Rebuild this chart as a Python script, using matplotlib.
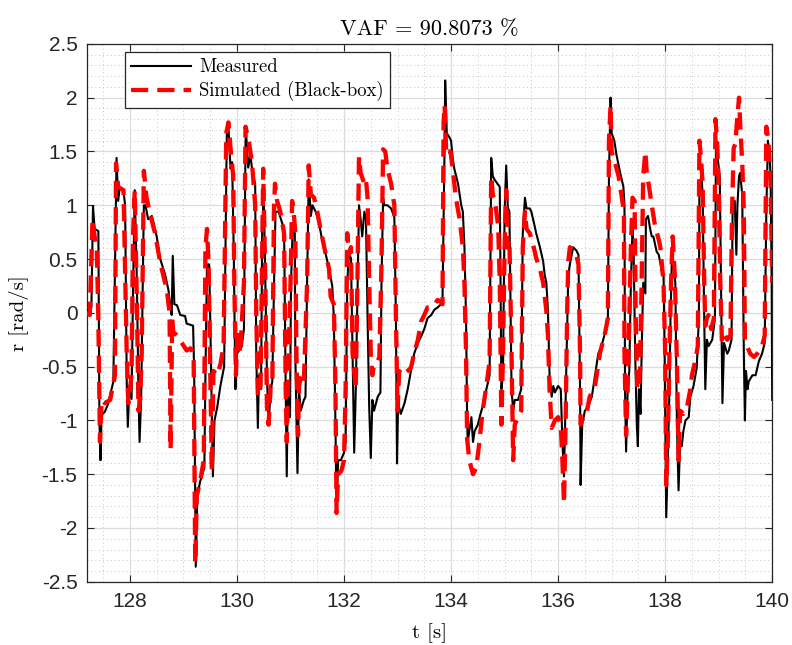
import matplotlib
matplotlib.use("Agg")
import matplotlib.pyplot as plt
from matplotlib.ticker import MultipleLocator, FuncFormatter

# ---------------- data ----------------
t_meas = [127.19, 127.22, 127.28, 127.31, 127.34, 127.41, 127.43, 127.45, 127.47, 127.53, 127.59, 127.69,
          127.75, 127.78, 127.81, 127.88, 127.91, 127.94, 127.96, 127.99, 128.03, 128.06, 128.09, 128.13,
          128.16, 128.18, 128.21, 128.24, 128.26, 128.29, 128.34, 128.41, 128.50, 128.56, 128.66, 128.72,
          128.75, 128.78, 128.80, 128.83, 128.88, 128.94, 129.03, 129.06, 129.18, 129.20, 129.22, 129.23,
          129.26, 129.31, 129.39, 129.41, 129.44, 129.48, 129.50, 129.53, 129.55, 129.58, 129.63, 129.69,
          129.76, 129.81, 129.84, 129.88, 129.91, 129.94, 129.97, 130.00, 130.09, 130.13, 130.16, 130.17,
          130.21, 130.25, 130.29, 130.34, 130.36, 130.39, 130.41, 130.45, 130.47, 130.50, 130.53, 130.56,
          130.59, 130.63, 130.66, 130.69, 130.72, 130.78, 130.84, 130.88, 130.91, 130.93, 130.95, 130.99,
          131.01, 131.04, 131.08, 131.09, 131.13, 131.16, 131.19, 131.25, 131.28, 131.31, 131.34, 131.38,
          131.41, 131.47, 131.53, 131.59, 131.66, 131.72, 131.78, 131.81, 131.84, 131.86, 131.89, 131.94,
          132.00, 132.03, 132.06, 132.09, 132.13, 132.16, 132.19, 132.22, 132.25, 132.28, 132.31, 132.34,
          132.38, 132.41, 132.44, 132.47, 132.50, 132.53, 132.56, 132.63, 132.68, 132.70, 132.73, 132.75,
          132.81, 132.88, 132.94, 132.97, 132.99, 133.01, 133.06, 133.13, 133.19, 133.25, 133.31, 133.38,
          133.44, 133.50, 133.56, 133.63, 133.69, 133.75, 133.81, 133.84, 133.88, 133.89, 133.92, 133.97,
          134.00, 134.03, 134.06, 134.13, 134.19, 134.22, 134.25, 134.28, 134.30, 134.31, 134.34, 134.38,
          134.41, 134.44, 134.50, 134.55, 134.59, 134.66, 134.72, 134.75, 134.78, 134.81, 134.91, 134.94,
          134.97, 135.00, 135.03, 135.06, 135.09, 135.13, 135.16, 135.19, 135.25, 135.31, 135.34, 135.38,
          135.41, 135.47, 135.50, 135.56, 135.59, 135.66, 135.72, 135.75, 135.78, 135.81, 135.84, 135.88,
          135.91, 135.94, 136.00, 136.05, 136.08, 136.11, 136.16, 136.19, 136.22, 136.28, 136.34, 136.38,
          136.41, 136.42, 136.45, 136.50, 136.56, 136.63, 136.69, 136.75, 136.81, 136.88, 136.93, 136.95,
          136.98, 137.00, 137.05, 137.09, 137.16, 137.22, 137.24, 137.25, 137.27, 137.30, 137.33, 137.36,
          137.39, 137.41, 137.44, 137.47, 137.49, 137.51, 137.54, 137.56, 137.59, 137.63, 137.64, 137.68,
          137.72, 137.75, 137.78, 137.84, 137.88, 137.94, 137.97, 137.99, 138.02, 138.05, 138.08, 138.10,
          138.13, 138.16, 138.19, 138.22, 138.25, 138.28, 138.31, 138.34, 138.38, 138.44, 138.47, 138.53,
          138.59, 138.63, 138.64, 138.68, 138.70, 138.73, 138.75, 138.78, 138.81, 138.88, 138.93, 138.95,
          138.98, 139.02, 139.05, 139.07, 139.10, 139.16, 139.19, 139.24, 139.26, 139.30, 139.33, 139.35,
          139.38, 139.40, 139.44, 139.47, 139.49, 139.51, 139.54, 139.56, 139.63, 139.69, 139.75, 139.81,
          139.86, 139.89, 139.92, 139.95, 139.97, 139.99, 140.00]
r_meas = [0.00, 0.03, 0.05, 0.99, 0.78, 0.76, -1.00, -1.37, -0.95, -0.92, -0.85, -0.64,
          1.44, 1.04, 1.17, 1.13, 1.00, -0.64, -1.06, -0.68, -0.80, 0.28, 1.14, 0.28,
          -0.78, -1.20, -0.78, 0.28, 1.00, 1.00, 0.87, 0.90, 0.71, 0.51, 0.35, 0.21,
          0.08, -0.02, 0.53, 0.08, 0.07, -0.02, -0.03, -0.10, -0.12, -0.54, -1.70, -2.36,
          -1.70, -1.57, -1.44, -0.60, 0.45, 0.45, -0.05, -0.94, -1.52, -1.00, -0.88, -0.68,
          -0.50, 1.67, 1.73, 1.34, 1.40, 0.55, -0.71, -0.38, -0.31, -0.15, 1.60, 1.67,
          1.35, 1.47, 1.30, 1.20, -0.38, -1.07, -0.58, -0.71, 0.74, 1.14, 0.28, -0.58,
          -1.04, -0.71, -0.64, 0.21, 0.94, 0.94, 0.84, 0.78, -0.71, -1.52, -0.71, -0.97,
          0.28, 0.78, 0.74, -0.38, -1.49, -0.71, -0.91, -0.81, -0.78, 0.28, 1.24, 0.90,
          1.00, 0.94, 0.84, 0.68, 0.54, 0.41, 0.25, -0.05, -1.04, -1.85, -1.37, -1.37,
          -1.30, -1.20, 0.28, 0.54, 0.51, -0.38, -1.30, -0.71, 0.12, 1.00, 0.87, 0.71,
          0.94, 0.87, -0.05, -0.87, -1.35, -0.81, -0.91, -0.78, -0.74, 0.28, 1.07, 1.00,
          1.00, 0.97, 0.89, -0.05, -1.40, -0.84, -0.94, -0.84, -0.71, -0.54, -0.38, -0.28,
          -0.22, -0.15, -0.05, -0.02, 0.03, 0.05, 0.08, 0.12, 1.60, 2.16, 1.67, 1.63,
          1.60, 1.44, 1.34, 1.20, 1.00, 0.94, 0.61, -0.05, -0.97, -1.20, -1.10, -0.97,
          -1.20, -1.10, -1.04, -0.94, -0.87, -0.71, -0.58, 1.44, 1.27, 1.24, 1.17, -0.71,
          -0.58, 0.94, 1.37, 0.98, 0.94, -0.71, -0.91, -0.81, -0.81, -0.71, 0.74, 1.07,
          0.97, 0.97, 0.94, 0.81, 0.74, 0.61, 0.48, 0.35, 0.28, 0.02, -0.58, -0.78,
          -0.68, -0.74, -0.68, -0.71, -1.20, -1.52, -0.38, 0.35, 0.45, 0.61, 0.58, 0.54,
          -0.71, -1.60, -1.04, -0.91, -0.87, -0.78, -0.58, -0.38, -0.31, -0.18, -0.05, 1.27,
          2.00, 1.67, 1.60, 1.47, 1.30, 1.17, 1.00, -0.71, -1.29, -0.71, -0.54, 0.28,
          0.78, 0.61, -0.38, -1.04, -1.24, -0.71, -0.94, -0.38, 0.28, 0.18, 0.87, 0.90,
          0.78, 0.71, 0.71, 0.57, 0.54, 0.38, 0.35, -0.38, -1.90, -1.37, -0.71, -0.05,
          0.61, 0.41, 0.28, -1.04, -1.65, -1.20, -1.24, -1.10, -1.00, -0.97, -0.78, -0.68,
          -0.51, -0.05, 1.20, 1.27, 1.10, -0.05, -0.71, -0.25, -0.31, -0.25, -0.05, 1.63,
          1.44, 1.27, 0.02, -0.84, -0.28, -0.38, -0.35, -0.25, 0.94, 1.04, 0.54, 1.00,
          1.27, 1.30, 1.10, -0.38, -1.00, -0.54, -0.71, -0.64, -0.58, -0.58, -0.45, -0.38,
          -0.28, 0.94, 1.60, 1.47, 1.27, 0.28, -0.81]

t_sim = [127.19, 127.25, 127.30, 127.34, 127.38, 127.41, 127.44, 127.47, 127.53, 127.63, 127.72, 127.74,
         127.78, 127.88, 127.94, 127.97, 128.03, 128.06, 128.09, 128.13, 128.16, 128.19, 128.22, 128.26,
         128.31, 128.38, 128.47, 128.56, 128.69, 128.74, 128.76, 128.79, 128.81, 128.88, 128.97, 129.06,
         129.13, 129.19, 129.22, 129.25, 129.31, 129.38, 129.41, 129.44, 129.47, 129.50, 129.53, 129.56,
         129.63, 129.69, 129.75, 129.80, 129.84, 129.89, 129.93, 129.95, 129.98, 130.01, 130.06, 130.13,
         130.16, 130.22, 130.28, 130.34, 130.36, 130.39, 130.44, 130.49, 130.53, 130.56, 130.59, 130.63,
         130.66, 130.69, 130.71, 130.75, 130.81, 130.88, 130.91, 130.93, 130.95, 131.00, 131.03, 131.06,
         131.09, 131.11, 131.14, 131.16, 131.20, 131.25, 131.31, 131.34, 131.38, 131.44, 131.50, 131.56,
         131.66, 131.72, 131.75, 131.81, 131.84, 131.86, 131.89, 131.95, 132.00, 132.03, 132.06, 132.09,
         132.13, 132.16, 132.22, 132.25, 132.28, 132.31, 132.38, 132.41, 132.44, 132.47, 132.50, 132.53,
         132.56, 132.63, 132.66, 132.70, 132.73, 132.77, 132.81, 132.88, 132.94, 132.97, 133.00, 133.03,
         133.09, 133.19, 133.25, 133.31, 133.38, 133.44, 133.50, 133.56, 133.63, 133.69, 133.75, 133.81,
         133.84, 133.86, 133.88, 133.91, 133.94, 133.99, 134.03, 134.09, 134.16, 134.22, 134.25, 134.28,
         134.30, 134.34, 134.41, 134.47, 134.53, 134.59, 134.66, 134.72, 134.75, 134.78, 134.83, 134.88,
         134.91, 134.94, 134.97, 135.00, 135.03, 135.06, 135.09, 135.13, 135.16, 135.19, 135.25, 135.31,
         135.34, 135.38, 135.41, 135.47, 135.53, 135.59, 135.66, 135.72, 135.78, 135.81, 135.84, 135.88,
         135.94, 136.00, 136.05, 136.08, 136.11, 136.14, 136.17, 136.19, 136.22, 136.28, 136.34, 136.38,
         136.41, 136.42, 136.47, 136.53, 136.59, 136.69, 136.78, 136.88, 136.93, 136.95, 136.98, 137.00,
         137.06, 137.13, 137.19, 137.23, 137.24, 137.27, 137.30, 137.33, 137.36, 137.39, 137.43, 137.45,
         137.48, 137.50, 137.53, 137.56, 137.59, 137.63, 137.66, 137.69, 137.75, 137.81, 137.88, 137.91,
         137.97, 138.00, 138.02, 138.05, 138.08, 138.11, 138.14, 138.18, 138.20, 138.23, 138.25, 138.28,
         138.34, 138.41, 138.47, 138.50, 138.56, 138.61, 138.64, 138.67, 138.70, 138.73, 138.75, 138.78,
         138.81, 138.86, 138.91, 138.94, 138.97, 139.00, 139.03, 139.06, 139.09, 139.16, 139.22, 139.25,
         139.28, 139.31, 139.35, 139.38, 139.41, 139.44, 139.47, 139.49, 139.53, 139.59, 139.66, 139.72,
         139.81, 139.86, 139.89, 139.93, 139.97, 140.00]
r_sim = [0.00, -0.02, 0.87, 0.71, 0.61, -0.05, -1.20, -0.81, -0.84, -0.81, -0.58, 1.39,
         1.17, 1.14, -0.38, -0.84, -0.58, 0.74, 1.14, 0.08, -0.91, -0.81, -0.38, 1.32,
         1.07, 0.91, 0.74, 0.48, 0.21, 0.00, -1.27, -0.05, -0.18, -0.21, -0.28, -0.35,
         -0.33, -0.38, -2.33, -1.70, -1.57, -1.37, 0.61, 0.78, 0.45, -0.54, -1.47, -0.54,
         -0.58, -0.48, -0.31, 1.67, 1.77, 1.47, 1.27, 0.28, -0.58, -0.15, -0.38, 0.28,
         1.73, 1.60, 1.40, 1.00, 0.00, -0.78, -0.68, 1.34, 0.28, -0.87, -1.04, -0.68,
         -0.68, 0.94, 1.20, 1.04, 0.94, 0.74, -0.71, -1.20, -0.75, 0.28, 1.04, 0.94,
         0.74, -0.38, -1.14, -0.68, -0.58, -0.64, 0.28, 1.37, 1.10, 1.07, 0.94, 0.78,
         0.54, 0.41, 0.15, 0.08, -0.71, -1.86, -1.50, -1.47, -1.37, -0.71, 0.74, 0.54,
         0.61, -0.38, -0.71, 0.28, 1.45, 1.30, 1.20, 1.24, 1.07, 0.28, -0.38, -0.58,
         -0.48, -0.45, -0.41, 0.45, 1.52, 1.50, 1.34, 1.20, 1.00, -0.05, -0.91, -0.54,
         -0.58, -0.54, -0.51, -0.38, -0.25, -0.08, -0.02, 0.05, 0.05, 0.08, 0.12, 0.10,
         0.08, 1.77, 1.93, 1.47, 1.50, 1.50, 1.34, 1.07, 0.87, 0.61, 0.28, -0.38,
         -1.17, -1.37, -1.50, -1.44, -1.20, -0.91, -0.68, -0.45, 1.27, 1.10, 1.00, 0.81,
         0.28, -1.04, -0.38, 0.61, 1.14, 0.61, 0.68, -0.38, -1.37, -1.04, -0.97, -0.91,
         0.61, 0.94, 0.78, 0.74, 0.64, 0.51, 0.41, 0.28, 0.02, -0.21, -0.71, -1.07,
         -1.00, -0.97, -1.04, -1.37, -1.77, -1.04, 0.05, 0.48, 0.61, 0.58, 0.54, 0.45,
         -0.38, -1.04, -0.97, -0.94, -0.78, -0.68, -0.38, -0.18, -0.05, 1.60, 1.93, 1.50,
         1.40, 1.27, 1.07, 0.94, -0.38, -1.14, -0.71, -0.05, 0.61, 1.07, 1.04, -0.05,
         -0.71, -0.71, -0.54, 0.28, 1.27, 1.50, 1.27, 1.20, 1.00, 0.81, 0.68, 0.61,
         0.28, -0.38, -1.60, -1.20, -0.38, 0.28, 0.71, 0.35, -0.05, -0.71, -1.37, -0.91,
         -0.94, -0.87, -0.71, -0.58, -0.45, -0.31, 1.60, 1.44, 1.20, 0.28, -0.12, -0.05,
         -0.02, -0.15, -0.05, 1.80, 1.60, 1.20, 0.28, -0.25, -0.18, -0.25, -0.21, 0.94,
         1.53, 1.57, 1.83, 2.00, 1.67, 1.40, 0.94, -0.25, -0.31, -0.38, -0.41, -0.38,
         -0.31, -0.21, 1.73, 1.60, 1.20, 0.28]

x_ticks = [128, 130, 132, 134, 136, 138, 140]
y_ticks = [-2.5, -2, -1.5, -1, -0.5, 0, 0.5, 1, 1.5, 2, 2.5]
title_text = "VAF = 90.8073 %"
series_labels = ["Measured", "Simulated (Black-box)"]

# ---------------- plot ----------------
serif = ["cmr10", "DejaVu Serif"]
sans = ["Liberation Sans", "DejaVu Sans"]

fig = plt.figure(figsize=(7.92, 6.45), dpi=100)
ax = fig.add_axes([0.110, 0.098, 0.865, 0.834])

ax.plot(t_meas, r_meas, color="black", lw=1.5, label=series_labels[0], zorder=3)
ax.plot(t_sim, r_sim, color="red", lw=3.1, dashes=(4.0, 2.1), label=series_labels[1], zorder=4)

ax.set_xlim(127.2, 140)
ax.set_ylim(-2.5, 2.5)
ax.set_xticks(x_ticks)
ax.set_yticks(y_ticks)
fmt = FuncFormatter(lambda v, p: f"{v:g}")
ax.xaxis.set_major_formatter(fmt)
ax.yaxis.set_major_formatter(fmt)
ax.xaxis.set_minor_locator(MultipleLocator(0.5))
ax.yaxis.set_minor_locator(MultipleLocator(0.1))

ax.grid(which="major", color="#dcdcdc", lw=0.9, ls="-", zorder=0)
ax.grid(which="minor", color="#c8c8c8", lw=0.7, ls=(0, (1, 3)), zorder=0)
ax.set_axisbelow(True)

ax.tick_params(which="major", direction="in", length=5, width=0.8, top=True, right=True,
               labelsize=15, colors="#262626", labelcolor="#262626", pad=7)
ax.tick_params(which="minor", length=0, top=True, right=True)
for lab in ax.get_xticklabels() + ax.get_yticklabels():
    lab.set_family(sans)
for s in ax.spines.values():
    s.set_color("#262626")
    s.set_linewidth(0.9)

ax.set_title(title_text, fontfamily=serif, fontsize=16, pad=6)
ax.set_xlabel("t [s]", fontfamily=serif, fontsize=15, labelpad=9)
ax.set_ylabel("r [rad/s]", fontfamily=serif, fontsize=15, labelpad=9)

leg = ax.legend(loc="upper left", bbox_to_anchor=(0.055, 0.985), borderaxespad=0,
                prop={"family": serif, "size": 13.5}, fancybox=False, framealpha=1,
                edgecolor="#262626", handlelength=3.2, borderpad=0.35, labelspacing=0.25,
                handletextpad=0.4)
leg.get_frame().set_linewidth(0.9)

fig.savefig("out.png", dpi=100)
